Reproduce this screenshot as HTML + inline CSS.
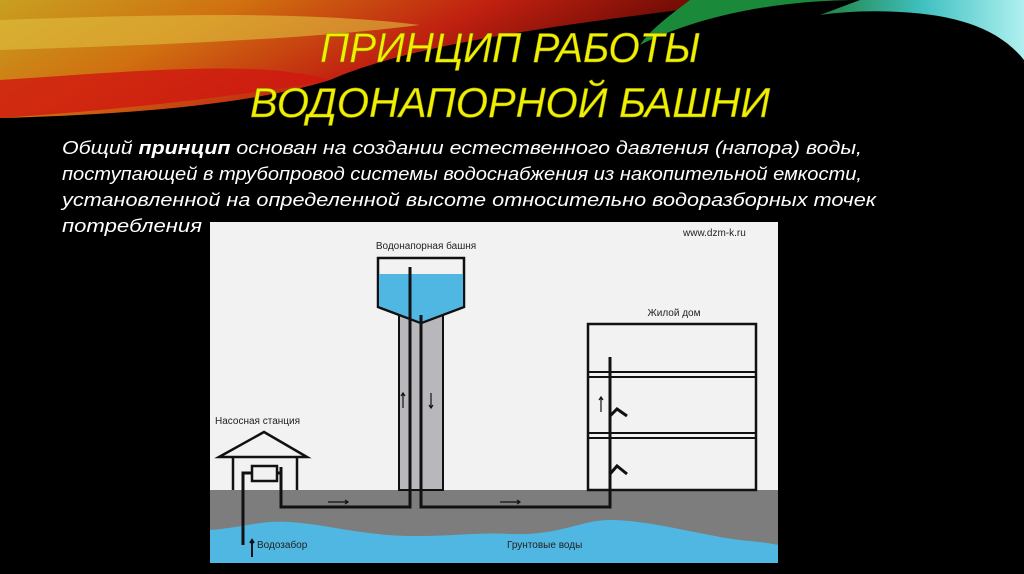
<!DOCTYPE html>
<html><head><meta charset="utf-8"><style>
html,body{margin:0;padding:0;background:#000;width:1024px;height:574px;overflow:hidden}
svg{display:block}
</style></head><body>
<svg width="1024" height="574" viewBox="0 0 1024 574" xmlns="http://www.w3.org/2000/svg" font-family="Liberation Sans, sans-serif">
<defs>
<linearGradient id="sw" x1="0" y1="0" x2="1" y2="0.3">
<stop offset="0" stop-color="#c8a020"/><stop offset="0.3" stop-color="#d07010"/><stop offset="0.6" stop-color="#c02010"/><stop offset="1" stop-color="#400000"/>
</linearGradient>
<linearGradient id="sw2" x1="0" y1="0" x2="1" y2="0">
<stop offset="0" stop-color="#208040"/><stop offset="0.5" stop-color="#40c0c0"/><stop offset="1" stop-color="#b0f0f0"/>
</linearGradient>
</defs>
<rect width="1024" height="574" fill="#000"/>
<path d="M0,0 L760,0 C600,20 420,40 330,80 C250,105 120,115 0,118 Z" fill="url(#sw)"/>
<path d="M0,20 C150,15 300,10 420,25 C300,40 150,45 0,50 Z" fill="#e0c040" opacity="0.6"/>
<path d="M0,80 C150,70 260,60 330,80 C250,95 120,110 0,118 Z" fill="#d01810" opacity="0.8"/>
<path d="M640,45 C700,15 780,0 860,0 L690,0 C670,15 650,30 640,45 Z" fill="#1a8a3a"/>
<path d="M860,0 L1024,0 L1024,60 C1000,30 960,15 900,12 C870,10 840,12 820,15 Z" fill="url(#sw2)"/>
<text x="510" y="62" fill="#f0f000" font-size="42" font-style="italic" text-anchor="middle" textLength="380" lengthAdjust="spacingAndGlyphs" stroke="#808000" stroke-width="0.5">ПРИНЦИП РАБОТЫ</text>
<text x="510" y="117" fill="#f0f000" font-size="42" font-style="italic" text-anchor="middle" textLength="520" lengthAdjust="spacingAndGlyphs" stroke="#808000" stroke-width="0.5">ВОДОНАПОРНОЙ БАШНИ</text>
<g fill="#fff" font-size="18" font-style="italic">
<text x="62" y="154" textLength="800" lengthAdjust="spacingAndGlyphs">Общий <tspan font-weight="bold">принцип</tspan> основан на создании естественного давления (напора) воды,</text>
<text x="62" y="180" textLength="800" lengthAdjust="spacingAndGlyphs">поступающей в трубопровод системы водоснабжения из накопительной емкости,</text>
<text x="62" y="206" textLength="814" lengthAdjust="spacingAndGlyphs">установленной на определенной высоте относительно водоразборных точек</text>
<text x="62" y="232" textLength="140" lengthAdjust="spacingAndGlyphs">потребления</text>
</g>
<rect x="210" y="222" width="568" height="341" fill="#f2f2f2"/>
<rect x="210" y="490" width="568" height="73" fill="#7d7d7d"/>
<path d="M210,530 C240,528 260,520 290,522 C330,525 360,535 410,536 C460,536 480,532 510,534 C560,536 580,520 610,520 C650,520 700,535 740,540 C760,542 770,543 778,545 L778,563 L210,563 Z" fill="#4fb7e2"/>
<!-- tower -->
<rect x="399" y="315" width="44" height="175" fill="#b8b8bc" stroke="#111" stroke-width="2"/>
<path d="M378,258 L464,258 L464,307 L421,323 L378,307 Z" fill="#f2f2f2" stroke="#111" stroke-width="2.5"/>
<path d="M379,274 L463,274 L463,306 L421,322 L379,306 Z" fill="#4fb7e2"/>
<path d="M410,267 L410,507 L281,507 L281,467" fill="none" stroke="#111" stroke-width="3"/>
<path d="M421,315 L421,507 L610,507 L610,357 L617,350 L627,357" fill="none" stroke="#111" stroke-width="3"/>
<!-- house -->
<path d="M219,457 L264,432 L307,457 Z" fill="#f2f2f2" stroke="#111" stroke-width="2.5"/>
<path d="M233,490 L233,457 M297,457 L297,490" stroke="#111" stroke-width="2.5"/>
<rect x="252" y="466" width="25" height="15" fill="#f2f2f2" stroke="#111" stroke-width="2.5"/>
<path d="M243,545 L243,473 L252,473 M277,473 L281,473" fill="none" stroke="#111" stroke-width="3"/>
<!-- building -->
<rect x="588" y="324" width="168" height="166" fill="#f2f2f2" stroke="#111" stroke-width="2.5"/>
<path d="M588,372 H756 M588,377 H756 M588,433 H756 M588,438 H756" stroke="#111" stroke-width="2"/>
<path d="M610,507 L610,357" stroke="#111" stroke-width="3"/>
<path d="M610,416 L617,409 L627,416 M610,474 L617,466 L627,474" fill="none" stroke="#111" stroke-width="3"/>
<!-- arrows -->
<g stroke="#111" stroke-width="1.2" fill="none">
<path d="M328,502 H348 M345,500 L348,502 L345,504"/>
<path d="M500,502 H520 M517,500 L520,502 L517,504"/>
<path d="M403,408 V393 M401,396 L403,393 L405,396"/>
<path d="M431,393 V408 M429,405 L431,408 L433,405"/>
<path d="M601,412 V397 M599,400 L601,397 L603,400"/>
<path d="M252,557 V540 M250,543 L252,540 L254,543" stroke-width="2"/>
</g>
<g fill="#222" font-size="10">
<text x="426" y="249" text-anchor="middle">Водонапорная башня</text>
<text x="674" y="316" text-anchor="middle">Жилой дом</text>
<text x="215" y="424">Насосная станция</text>
<text x="683" y="236">www.dzm-k.ru</text>
<text x="257" y="548">Водозабор</text>
<text x="507" y="548">Грунтовые воды</text>
</g>
</svg>
</body></html>
